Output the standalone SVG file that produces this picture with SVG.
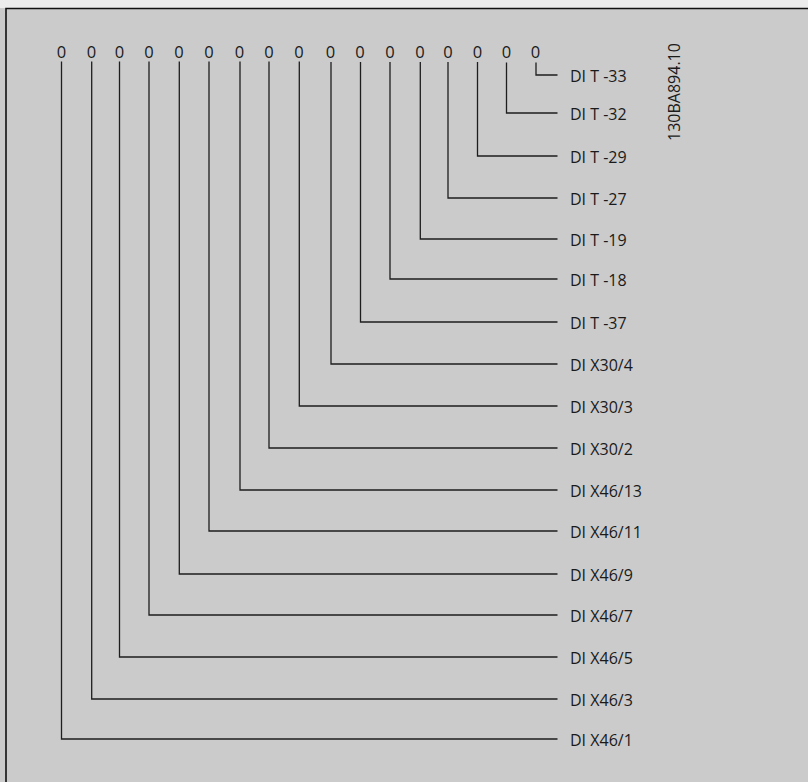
<svg xmlns="http://www.w3.org/2000/svg" width="808" height="782" viewBox="0 0 808 782">
<style>
text{font-family:"Open Sans","Noto Sans","Liberation Sans",sans-serif;font-size:16px;fill:#1a1a1a}
.z{text-anchor:middle;font-size:16.5px}
.c{fill:none;stroke:#1e1e1e;stroke-width:1.3}
</style>
<rect x="0" y="0" width="808" height="782" fill="#cbcbcb"/>
<rect x="0" y="0" width="808" height="8" fill="#ececec"/>
<path d="M6 782V8.5H808" fill="none" stroke="#111" stroke-width="1.6"/>
<g id="bits">
<g id="bit16"><text class="z" x="61.5" y="57.5">0</text></g>
<g id="bit15"><text class="z" x="91.5" y="57.5">0</text></g>
<g id="bit14"><text class="z" x="119.5" y="57.5">0</text></g>
<g id="bit13"><text class="z" x="149" y="57.5">0</text></g>
<g id="bit12"><text class="z" x="179" y="57.5">0</text></g>
<g id="bit11"><text class="z" x="209" y="57.5">0</text></g>
<g id="bit10"><text class="z" x="239.5" y="57.5">0</text></g>
<g id="bit9"><text class="z" x="269" y="57.5">0</text></g>
<g id="bit8"><text class="z" x="299" y="57.5">0</text></g>
<g id="bit7"><text class="z" x="330.5" y="57.5">0</text></g>
<g id="bit6"><text class="z" x="360" y="57.5">0</text></g>
<g id="bit5"><text class="z" x="390" y="57.5">0</text></g>
<g id="bit4"><text class="z" x="420" y="57.5">0</text></g>
<g id="bit3"><text class="z" x="448" y="57.5">0</text></g>
<g id="bit2"><text class="z" x="477.5" y="57.5">0</text></g>
<g id="bit1"><text class="z" x="506.5" y="57.5">0</text></g>
<g id="bit0"><text class="z" x="535.5" y="57.5">0</text></g>
</g>
<g id="labels">
<g id="lbl0"><text x="570" y="81.5">DI T -33</text></g>
<g id="lbl1"><text x="570" y="119.5">DI T -32</text></g>
<g id="lbl2"><text x="570" y="162.5">DI T -29</text></g>
<g id="lbl3"><text x="570" y="204.5">DI T -27</text></g>
<g id="lbl4"><text x="570" y="245.5">DI T -19</text></g>
<g id="lbl5"><text x="570" y="285.5">DI T -18</text></g>
<g id="lbl6"><text x="570" y="328.5">DI T -37</text></g>
<g id="lbl7"><text x="570" y="370.5">DI X30/4</text></g>
<g id="lbl8"><text x="570" y="412.5">DI X30/3</text></g>
<g id="lbl9"><text x="570" y="454.5">DI X30/2</text></g>
<g id="lbl10"><text x="570" y="496.5">DI X46/13</text></g>
<g id="lbl11"><text x="570" y="537.5">DI X46/11</text></g>
<g id="lbl12"><text x="570" y="580.5">DI X46/9</text></g>
<g id="lbl13"><text x="570" y="621.5">DI X46/7</text></g>
<g id="lbl14"><text x="570" y="663.5">DI X46/5</text></g>
<g id="lbl15"><text x="570" y="705.5">DI X46/3</text></g>
<g id="lbl16"><text x="570" y="745.5">DI X46/1</text></g>
</g>
<g id="connectors">
<path class="c" d="M536 62.5V75H557.5"/>
<path class="c" d="M506.5 62.5V113H557.5"/>
<path class="c" d="M477.5 62V156H557.5"/>
<path class="c" d="M448 62V198H557.5"/>
<path class="c" d="M420.3 62V239H557.5"/>
<path class="c" d="M390 62V279H557.5"/>
<path class="c" d="M360.5 62V322H557.5"/>
<path class="c" d="M331 62V364H557.5"/>
<path class="c" d="M299.3 61.5V406H557.5"/>
<path class="c" d="M269 61.5V448H557.5"/>
<path class="c" d="M240 61.5V490H557.5"/>
<path class="c" d="M209 61.5V531H557.5"/>
<path class="c" d="M179.3 61.5V574H557.5"/>
<path class="c" d="M149 61.5V615H557.5"/>
<path class="c" d="M119.5 61.5V657H557.5"/>
<path class="c" d="M91.7 61.5V699H557.5"/>
<path class="c" d="M61.5 61.5V739H557.5"/>
</g>
<g id="docid"><text x="0" y="0" text-anchor="middle" transform="translate(680,92) rotate(-90)">130BA894.10</text></g>
</svg>
